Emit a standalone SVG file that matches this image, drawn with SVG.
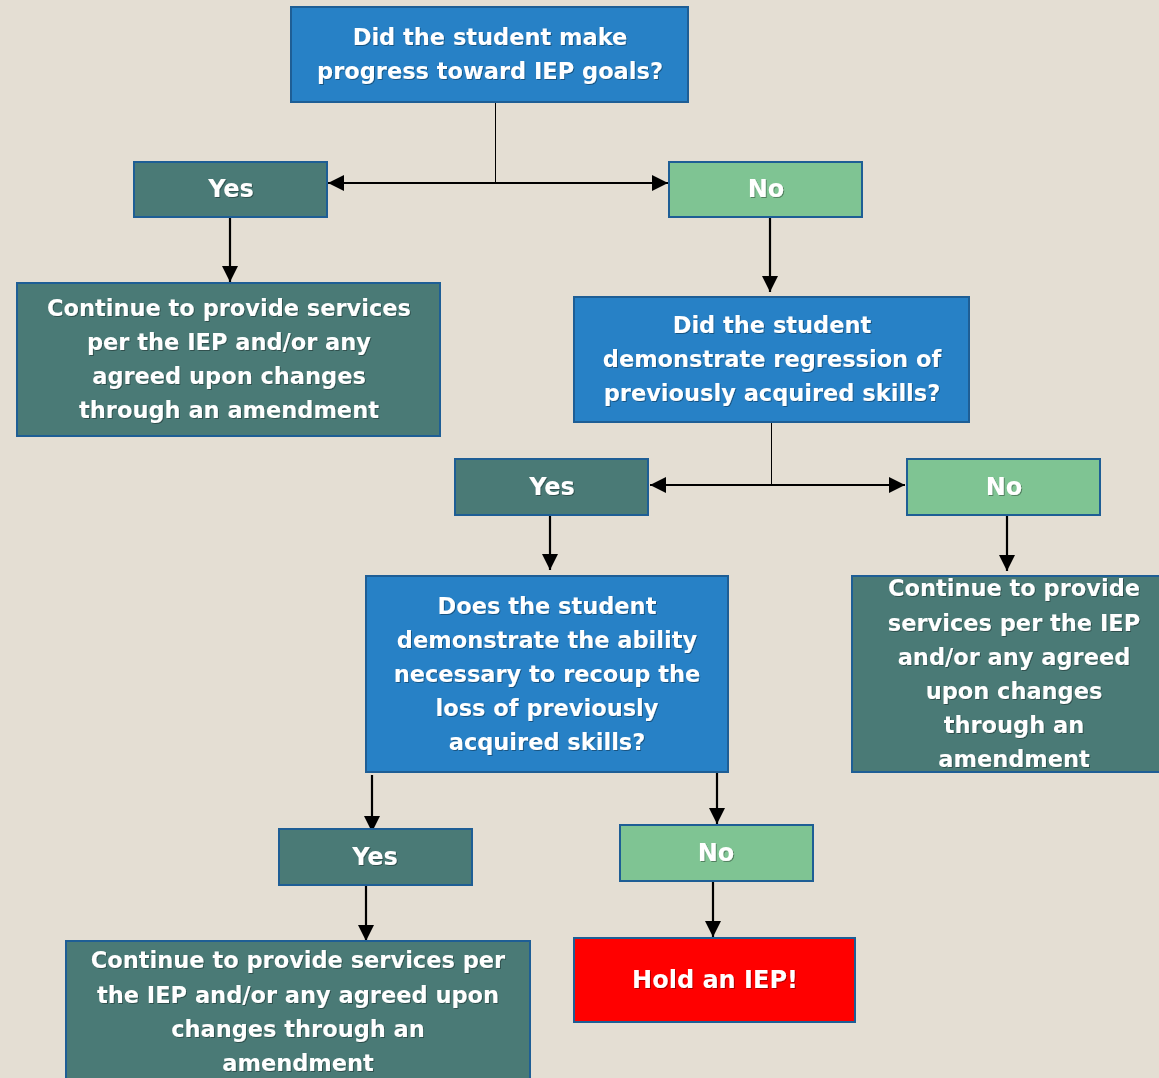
<svg xmlns="http://www.w3.org/2000/svg" width="1159" height="1078" viewBox="0 0 1159 1078">
<defs>
<marker id="ahL" viewBox="0 0 10 10" refX="10" refY="5" markerWidth="16" markerHeight="16" markerUnits="userSpaceOnUse" orient="auto-start-reverse">
<path d="M0,0 L10,5 L0,10 z" fill="#000"/>
</marker>
<filter id="sh" x="-5%" y="-5%" width="110%" height="120%">
<feDropShadow dx="1" dy="1" stdDeviation="0.6" flood-color="#000" flood-opacity="0.35"/>
</filter>
</defs>
<style>
.blue{fill:#2781C6;stroke:#1E5E95;stroke-width:2}
.dark{fill:#4A7A76;stroke:#1E5E95;stroke-width:2}
.light{fill:#7FC493;stroke:#1E5E95;stroke-width:2}
.red{fill:#FF0000;stroke:#1E5E95;stroke-width:2}
text{font-family:"DejaVu Sans","Liberation Sans",sans-serif;font-weight:bold;font-size:22.5px;fill:#fff;text-anchor:middle;dominant-baseline:central}
.big{font-size:24px}
.sh{filter:url(#sh)}
.thin{stroke:#000;stroke-width:1;fill:none}
.arr{stroke:#000;stroke-width:2.2;fill:none;marker-end:url(#ahL)}
.dbl{stroke:#000;stroke-width:2.2;fill:none;marker-end:url(#ahL);marker-start:url(#ahL)}
</style>
<rect width="1159" height="1078" fill="#E4DED3"/>
<g id="connectors">
<line class="thin" x1="495.5" y1="102" x2="495.5" y2="183"/>
<line class="dbl" x1="328" y1="183" x2="668" y2="183"/>
<line class="arr" x1="230" y1="217" x2="230" y2="282"/>
<line class="arr" x1="770" y1="217" x2="770" y2="292"/>
<line class="thin" x1="771.5" y1="422" x2="771.5" y2="485"/>
<line class="dbl" x1="650" y1="485" x2="905" y2="485"/>
<line class="arr" x1="550" y1="515" x2="550" y2="570"/>
<line class="arr" x1="1007" y1="515" x2="1007" y2="571"/>
<line class="arr" x1="372" y1="775" x2="372" y2="832"/>
<line class="arr" x1="717" y1="772" x2="717" y2="824"/>
<line class="arr" x1="366" y1="885" x2="366" y2="941"/>
<line class="arr" x1="713" y1="881" x2="713" y2="937"/>
</g>
<g id="q1">
<rect class="blue" x="291" y="7" width="397" height="95"/>
<g class="sh"><text x="490" y="37">Did the student make</text><text x="490" y="71">progress toward IEP goals?</text></g>
</g>
<g id="yes1">
<rect class="dark" x="134" y="162" width="193" height="55"/>
<g class="sh"><text class="big" x="231" y="189">Yes</text></g>
</g>
<g id="no1">
<rect class="light" x="669" y="162" width="193" height="55"/>
<g class="sh"><text class="big" x="766" y="189">No</text></g>
</g>
<g id="cont1">
<rect class="dark" x="17" y="283" width="423" height="153"/>
<g class="sh"><text x="229" y="308">Continue to provide services</text><text x="229" y="342">per the IEP and/or any</text><text x="229" y="376">agreed upon changes</text><text x="229" y="410">through an amendment</text></g>
</g>
<g id="q2">
<rect class="blue" x="574" y="297" width="395" height="125"/>
<g class="sh"><text x="772" y="325">Did the student</text><text x="772" y="359">demonstrate regression of</text><text x="772" y="393">previously acquired skills?</text></g>
</g>
<g id="yes2">
<rect class="dark" x="455" y="459" width="193" height="56"/>
<g class="sh"><text class="big" x="552" y="487">Yes</text></g>
</g>
<g id="no2">
<rect class="light" x="907" y="459" width="193" height="56"/>
<g class="sh"><text class="big" x="1004" y="487">No</text></g>
</g>
<g id="q3">
<rect class="blue" x="366" y="576" width="362" height="196"/>
<g class="sh"><text x="547" y="606">Does the student</text><text x="547" y="640">demonstrate the ability</text><text x="547" y="674">necessary to recoup the</text><text x="547" y="708">loss of previously</text><text x="547" y="742">acquired skills?</text></g>
</g>
<g id="cont2">
<rect class="dark" x="852" y="576" width="320" height="196"/>
<g class="sh"><text x="1014" y="588">Continue to provide</text><text x="1014" y="623">services per the IEP</text><text x="1014" y="657">and/or any agreed</text><text x="1014" y="691">upon changes</text><text x="1014" y="725">through an</text><text x="1014" y="759">amendment</text></g>
</g>
<g id="yes3">
<rect class="dark" x="279" y="829" width="193" height="56"/>
<g class="sh"><text class="big" x="375" y="857">Yes</text></g>
</g>
<g id="no3">
<rect class="light" x="620" y="825" width="193" height="56"/>
<g class="sh"><text class="big" x="716" y="853">No</text></g>
</g>
<g id="cont3">
<rect class="dark" x="66" y="941" width="464" height="150"/>
<g class="sh"><text x="298" y="960">Continue to provide services per</text><text x="298" y="995">the IEP and/or any agreed upon</text><text x="298" y="1029">changes through an</text><text x="298" y="1063">amendment</text></g>
</g>
<g id="hold">
<rect class="red" x="574" y="938" width="281" height="84"/>
<g class="sh"><text class="big" x="715" y="980">Hold an IEP!</text></g>
</g>
</svg>
